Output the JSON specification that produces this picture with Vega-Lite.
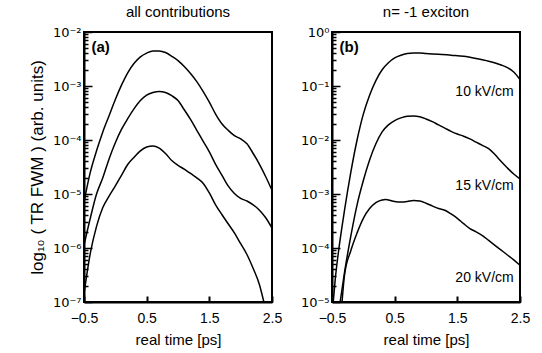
{
  "$schema": "https://vega.github.io/schema/vega-lite/v6.json",
  "background": "white",
  "padding": {"left": 27, "top": 4, "right": 5, "bottom": 5},
  "config": {
    "font": "Liberation Sans",
    "view": {"stroke": "black", "strokeWidth": 2},
    "axis": {"grid": false, "ticks": true, "domainColor": "black", "domainWidth": 2, "labelColor": "black", "titleColor": "black", "labelFontSize": 14, "titleFontSize": 16, "titleFontWeight": "normal", "labelOverlap": false, "labelFlush": false},
    "title": {"fontSize": 15, "fontWeight": "normal", "color": "black", "offset": 6}
  },
  "spacing": 16,
  "datasets": {
    "a": [
      {"s": "A", "t": -0.5, "v": 7.079e-6}, {"s": "A", "t": -0.4, "v": 2.512e-5}, {"s": "A", "t": -0.3, "v": 6.310e-5}, {"s": "A", "t": -0.2, "v": 1.413e-4}, {"s": "A", "t": -0.1, "v": 2.818e-4}, {"s": "A", "t": 0.0, "v": 5.623e-4}, {"s": "A", "t": 0.1, "v": 1.047e-3}, {"s": "A", "t": 0.2, "v": 1.778e-3}, {"s": "A", "t": 0.3, "v": 2.630e-3}, {"s": "A", "t": 0.4, "v": 3.467e-3}, {"s": "A", "t": 0.5, "v": 4.074e-3}, {"s": "A", "t": 0.6, "v": 4.467e-3}, {"s": "A", "t": 0.7, "v": 4.467e-3}, {"s": "A", "t": 0.8, "v": 4.169e-3}, {"s": "A", "t": 0.9, "v": 3.548e-3}, {"s": "A", "t": 1.0, "v": 2.951e-3}, {"s": "A", "t": 1.1, "v": 2.291e-3}, {"s": "A", "t": 1.2, "v": 1.698e-3}, {"s": "A", "t": 1.3, "v": 1.202e-3}, {"s": "A", "t": 1.4, "v": 7.943e-4}, {"s": "A", "t": 1.5, "v": 5.012e-4}, {"s": "A", "t": 1.6, "v": 3.020e-4}, {"s": "A", "t": 1.7, "v": 1.995e-4}, {"s": "A", "t": 1.8, "v": 1.514e-4}, {"s": "A", "t": 1.9, "v": 1.202e-4}, {"s": "A", "t": 2.0, "v": 1.047e-4}, {"s": "A", "t": 2.1, "v": 8.511e-5}, {"s": "A", "t": 2.2, "v": 5.623e-5}, {"s": "A", "t": 2.3, "v": 3.548e-5}, {"s": "A", "t": 2.4, "v": 2.089e-5}, {"s": "A", "t": 2.5, "v": 1.175e-5},
      {"s": "B", "t": -0.5, "v": 1.122e-6}, {"s": "B", "t": -0.4, "v": 3.548e-6}, {"s": "B", "t": -0.3, "v": 1.0e-5}, {"s": "B", "t": -0.2, "v": 1.995e-5}, {"s": "B", "t": -0.1, "v": 4.467e-5}, {"s": "B", "t": 0.0, "v": 8.913e-5}, {"s": "B", "t": 0.1, "v": 1.585e-4}, {"s": "B", "t": 0.2, "v": 2.512e-4}, {"s": "B", "t": 0.3, "v": 3.802e-4}, {"s": "B", "t": 0.4, "v": 5.370e-4}, {"s": "B", "t": 0.5, "v": 6.761e-4}, {"s": "B", "t": 0.6, "v": 7.586e-4}, {"s": "B", "t": 0.7, "v": 7.943e-4}, {"s": "B", "t": 0.8, "v": 7.586e-4}, {"s": "B", "t": 0.9, "v": 6.607e-4}, {"s": "B", "t": 1.0, "v": 5.370e-4}, {"s": "B", "t": 1.1, "v": 3.631e-4}, {"s": "B", "t": 1.2, "v": 2.399e-4}, {"s": "B", "t": 1.3, "v": 1.514e-4}, {"s": "B", "t": 1.4, "v": 9.550e-5}, {"s": "B", "t": 1.5, "v": 6.026e-5}, {"s": "B", "t": 1.6, "v": 3.548e-5}, {"s": "B", "t": 1.7, "v": 2.239e-5}, {"s": "B", "t": 1.8, "v": 1.413e-5}, {"s": "B", "t": 1.9, "v": 1.023e-5}, {"s": "B", "t": 2.0, "v": 8.318e-6}, {"s": "B", "t": 2.1, "v": 7.413e-6}, {"s": "B", "t": 2.2, "v": 6.310e-6}, {"s": "B", "t": 2.3, "v": 5.012e-6}, {"s": "B", "t": 2.4, "v": 3.631e-6}, {"s": "B", "t": 2.5, "v": 2.344e-6},
      {"s": "C", "t": -0.5, "v": 1.413e-7}, {"s": "C", "t": -0.4, "v": 7.943e-7}, {"s": "C", "t": -0.3, "v": 2.512e-6}, {"s": "C", "t": -0.2, "v": 5.623e-6}, {"s": "C", "t": -0.1, "v": 9.120e-6}, {"s": "C", "t": 0.0, "v": 1.413e-5}, {"s": "C", "t": 0.1, "v": 2.239e-5}, {"s": "C", "t": 0.2, "v": 3.548e-5}, {"s": "C", "t": 0.3, "v": 4.786e-5}, {"s": "C", "t": 0.4, "v": 6.310e-5}, {"s": "C", "t": 0.5, "v": 7.413e-5}, {"s": "C", "t": 0.6, "v": 7.762e-5}, {"s": "C", "t": 0.7, "v": 7.079e-5}, {"s": "C", "t": 0.8, "v": 5.623e-5}, {"s": "C", "t": 0.9, "v": 4.169e-5}, {"s": "C", "t": 1.0, "v": 3.388e-5}, {"s": "C", "t": 1.1, "v": 2.884e-5}, {"s": "C", "t": 1.2, "v": 2.399e-5}, {"s": "C", "t": 1.3, "v": 1.995e-5}, {"s": "C", "t": 1.4, "v": 1.585e-5}, {"s": "C", "t": 1.5, "v": 1.047e-5}, {"s": "C", "t": 1.6, "v": 6.310e-6}, {"s": "C", "t": 1.7, "v": 4.169e-6}, {"s": "C", "t": 1.8, "v": 2.818e-6}, {"s": "C", "t": 1.9, "v": 1.905e-6}, {"s": "C", "t": 2.0, "v": 1.202e-6}, {"s": "C", "t": 2.1, "v": 7.586e-7}, {"s": "C", "t": 2.2, "v": 4.169e-7}, {"s": "C", "t": 2.3, "v": 2.089e-7}, {"s": "C", "t": 2.37, "v": 1.0e-7}
    ],
    "b": [
      {"s": "10", "t": -0.48, "v": 1.0e-5}, {"s": "10", "t": -0.45, "v": 2.512e-5}, {"s": "10", "t": -0.4, "v": 7.943e-5}, {"s": "10", "t": -0.3, "v": 5.012e-4}, {"s": "10", "t": -0.2, "v": 2.512e-3}, {"s": "10", "t": -0.1, "v": 1.0e-2}, {"s": "10", "t": 0.0, "v": 3.020e-2}, {"s": "10", "t": 0.1, "v": 6.761e-2}, {"s": "10", "t": 0.2, "v": 0.1259}, {"s": "10", "t": 0.3, "v": 0.1995}, {"s": "10", "t": 0.4, "v": 0.2692}, {"s": "10", "t": 0.5, "v": 0.3311}, {"s": "10", "t": 0.6, "v": 0.3715}, {"s": "10", "t": 0.7, "v": 0.3981}, {"s": "10", "t": 0.8, "v": 0.4074}, {"s": "10", "t": 0.9, "v": 0.4074}, {"s": "10", "t": 1.0, "v": 0.3981}, {"s": "10", "t": 1.2, "v": 0.3890}, {"s": "10", "t": 1.4, "v": 0.3715}, {"s": "10", "t": 1.6, "v": 0.3548}, {"s": "10", "t": 1.8, "v": 0.3236}, {"s": "10", "t": 2.0, "v": 0.2884}, {"s": "10", "t": 2.2, "v": 0.2455}, {"s": "10", "t": 2.3, "v": 0.2188}, {"s": "10", "t": 2.4, "v": 0.1820}, {"s": "10", "t": 2.5, "v": 0.1318},
      {"s": "15", "t": -0.37, "v": 1.0e-5}, {"s": "15", "t": -0.3, "v": 3.548e-5}, {"s": "15", "t": -0.2, "v": 1.660e-4}, {"s": "15", "t": -0.1, "v": 6.310e-4}, {"s": "15", "t": 0.0, "v": 1.778e-3}, {"s": "15", "t": 0.1, "v": 4.266e-3}, {"s": "15", "t": 0.2, "v": 8.511e-3}, {"s": "15", "t": 0.3, "v": 1.413e-2}, {"s": "15", "t": 0.4, "v": 1.905e-2}, {"s": "15", "t": 0.5, "v": 2.291e-2}, {"s": "15", "t": 0.6, "v": 2.570e-2}, {"s": "15", "t": 0.7, "v": 2.754e-2}, {"s": "15", "t": 0.8, "v": 2.786e-2}, {"s": "15", "t": 0.9, "v": 2.692e-2}, {"s": "15", "t": 1.0, "v": 2.455e-2}, {"s": "15", "t": 1.1, "v": 2.188e-2}, {"s": "15", "t": 1.2, "v": 1.905e-2}, {"s": "15", "t": 1.3, "v": 1.660e-2}, {"s": "15", "t": 1.4, "v": 1.445e-2}, {"s": "15", "t": 1.5, "v": 1.288e-2}, {"s": "15", "t": 1.6, "v": 1.175e-2}, {"s": "15", "t": 1.7, "v": 1.047e-2}, {"s": "15", "t": 1.8, "v": 9.120e-3}, {"s": "15", "t": 1.9, "v": 7.943e-3}, {"s": "15", "t": 2.0, "v": 6.918e-3}, {"s": "15", "t": 2.1, "v": 5.370e-3}, {"s": "15", "t": 2.2, "v": 3.981e-3}, {"s": "15", "t": 2.3, "v": 3.020e-3}, {"s": "15", "t": 2.4, "v": 2.344e-3}, {"s": "15", "t": 2.5, "v": 1.905e-3},
      {"s": "20", "t": -0.34, "v": 1.0e-5}, {"s": "20", "t": -0.3, "v": 3.162e-5}, {"s": "20", "t": -0.2, "v": 8.913e-5}, {"s": "20", "t": -0.1, "v": 1.905e-4}, {"s": "20", "t": 0.0, "v": 3.548e-4}, {"s": "20", "t": 0.1, "v": 5.370e-4}, {"s": "20", "t": 0.2, "v": 6.918e-4}, {"s": "20", "t": 0.3, "v": 7.762e-4}, {"s": "20", "t": 0.35, "v": 7.943e-4}, {"s": "20", "t": 0.4, "v": 7.762e-4}, {"s": "20", "t": 0.5, "v": 7.244e-4}, {"s": "20", "t": 0.6, "v": 7.079e-4}, {"s": "20", "t": 0.7, "v": 7.244e-4}, {"s": "20", "t": 0.8, "v": 7.586e-4}, {"s": "20", "t": 0.9, "v": 7.413e-4}, {"s": "20", "t": 1.0, "v": 6.761e-4}, {"s": "20", "t": 1.1, "v": 6.026e-4}, {"s": "20", "t": 1.2, "v": 5.370e-4}, {"s": "20", "t": 1.3, "v": 5.012e-4}, {"s": "20", "t": 1.4, "v": 4.266e-4}, {"s": "20", "t": 1.5, "v": 3.548e-4}, {"s": "20", "t": 1.6, "v": 2.818e-4}, {"s": "20", "t": 1.7, "v": 2.291e-4}, {"s": "20", "t": 1.8, "v": 1.995e-4}, {"s": "20", "t": 1.9, "v": 1.698e-4}, {"s": "20", "t": 2.0, "v": 1.380e-4}, {"s": "20", "t": 2.1, "v": 1.122e-4}, {"s": "20", "t": 2.2, "v": 9.120e-5}, {"s": "20", "t": 2.3, "v": 7.413e-5}, {"s": "20", "t": 2.4, "v": 6.026e-5}, {"s": "20", "t": 2.5, "v": 4.786e-5}
    ],
    "tagA": [{"t": -0.38, "v": 5.2e-3, "label": "(a)"}],
    "tagB": [{"t": -0.38, "v": 0.52, "label": "(b)"}],
    "fields": [
      {"t": 2.4, "v": 0.078, "label": "10 kV/cm"},
      {"t": 2.4, "v": 1.4e-3, "label": "15 kV/cm"},
      {"t": 2.4, "v": 2.8e-5, "label": "20 kV/cm"}
    ]
  },
  "hconcat": [
    {
      "width": 188,
      "height": 270,
      "title": {"text": "all contributions"},
      "layer": [
        {
          "data": {"name": "a"},
          "mark": {"type": "line", "color": "black", "strokeWidth": 1.5, "interpolate": "monotone"},
          "encoding": {
            "x": {"field": "t", "type": "quantitative", "scale": {"domain": [-0.5, 2.5], "nice": false, "zero": false},
              "axis": {"title": "real time  [ps]", "titleFontSize": 15, "titlePadding": 7, "ticks": true, "zindex": 1, "values": [-0.5, -0.25, 0, 0.25, 0.5, 0.75, 1, 1.25, 1.5, 1.75, 2, 2.25, 2.5], "tickSize": -6, "tickColor": "black", "tickWidth": 2, "labelPadding": 15, "format": ".1~f",
                "labelColor": {"condition": {"test": "datum.value == 1 || datum.value == 2 || abs(datum.value * 2 - round(datum.value * 2)) > 1e-9", "value": "transparent"}, "value": "black"}}},
            "y": {"field": "v", "type": "quantitative", "scale": {"type": "log", "domain": [1e-7, 1e-2], "nice": false},
              "axis": {"title": "log₁₀ ( TR FWM ) (arb. units)", "titleFontSize": 17, "titlePadding": 6, "ticks": true, "zindex": 1, "labelFont": "DejaVu Sans", "labelFontSize": 13, "tickColor": "black", "tickWidth": 1.5, "values": [1e-7, 2e-7, 3e-7, 4e-7, 5e-7, 6e-7, 7e-7, 8e-7, 9e-7, 1e-6, 2e-6, 3e-6, 4e-6, 5e-6, 6e-6, 7e-6, 8e-6, 9e-6, 1e-5, 2e-5, 3e-5, 4e-5, 5e-5, 6e-5, 7e-5, 8e-5, 9e-5, 1e-4, 2e-4, 3e-4, 4e-4, 5e-4, 6e-4, 7e-4, 8e-4, 9e-4, 1e-3, 2e-3, 3e-3, 4e-3, 5e-3, 6e-3, 7e-3, 8e-3, 9e-3, 1e-2],
                "tickSize": {"condition": {"test": "abs(log(datum.value)/LN10 - round(log(datum.value)/LN10)) < 1e-6", "value": -8}, "value": -4},
                "labelPadding": 11,
                "labelExpr": "abs(log(datum.value)/LN10 - round(log(datum.value)/LN10)) < 1e-6 ? (round(log(datum.value)/LN10) == 0 ? '10⁰' : '10⁻' + ['', '¹', '²', '³', '⁴', '⁵', '⁶', '⁷'][-round(log(datum.value)/LN10)]) : ''"}},
            "detail": {"field": "s"}
          }
        },
        {
          "data": {"name": "tagA"},
          "mark": {"type": "text", "align": "left", "fontSize": 15, "fontWeight": "bold", "color": "black"},
          "encoding": {"x": {"field": "t", "type": "quantitative"}, "y": {"field": "v", "type": "quantitative"}, "text": {"field": "label"}}
        }
      ]
    },
    {
      "width": 188,
      "height": 270,
      "title": {"text": "n= -1 exciton"},
      "layer": [
        {
          "data": {"name": "b"},
          "mark": {"type": "line", "color": "black", "strokeWidth": 1.5, "interpolate": "monotone"},
          "encoding": {
            "x": {"field": "t", "type": "quantitative", "scale": {"domain": [-0.5, 2.5], "nice": false, "zero": false},
              "axis": {"title": "real time  [ps]", "titleFontSize": 15, "titlePadding": 7, "ticks": true, "zindex": 1, "values": [-0.5, -0.25, 0, 0.25, 0.5, 0.75, 1, 1.25, 1.5, 1.75, 2, 2.25, 2.5], "tickSize": -6, "tickColor": "black", "tickWidth": 2, "labelPadding": 15, "format": ".1~f",
                "labelColor": {"condition": {"test": "datum.value == 1 || datum.value == 2 || abs(datum.value * 2 - round(datum.value * 2)) > 1e-9", "value": "transparent"}, "value": "black"}}},
            "y": {"field": "v", "type": "quantitative", "scale": {"type": "log", "domain": [1e-5, 1], "nice": false},
              "axis": {"title": null, "ticks": true, "zindex": 1, "labelFont": "DejaVu Sans", "labelFontSize": 13, "tickColor": "black", "tickWidth": 1.5, "values": [1e-5, 2e-5, 3e-5, 4e-5, 5e-5, 6e-5, 7e-5, 8e-5, 9e-5, 1e-4, 2e-4, 3e-4, 4e-4, 5e-4, 6e-4, 7e-4, 8e-4, 9e-4, 1e-3, 2e-3, 3e-3, 4e-3, 5e-3, 6e-3, 7e-3, 8e-3, 9e-3, 1e-2, 2e-2, 3e-2, 4e-2, 5e-2, 6e-2, 7e-2, 8e-2, 9e-2, 0.1, 0.2, 0.3, 0.4, 0.5, 0.6, 0.7, 0.8, 0.9, 1],
                "tickSize": {"condition": {"test": "abs(log(datum.value)/LN10 - round(log(datum.value)/LN10)) < 1e-6", "value": -8}, "value": -4},
                "labelPadding": 11,
                "labelExpr": "abs(log(datum.value)/LN10 - round(log(datum.value)/LN10)) < 1e-6 ? (round(log(datum.value)/LN10) == 0 ? '10⁰' : '10⁻' + ['', '¹', '²', '³', '⁴', '⁵', '⁶', '⁷'][-round(log(datum.value)/LN10)]) : ''"}},
            "detail": {"field": "s"}
          }
        },
        {
          "data": {"name": "tagB"},
          "mark": {"type": "text", "align": "left", "fontSize": 15, "fontWeight": "bold", "color": "black"},
          "encoding": {"x": {"field": "t", "type": "quantitative"}, "y": {"field": "v", "type": "quantitative"}, "text": {"field": "label"}}
        },
        {
          "data": {"name": "fields"},
          "mark": {"type": "text", "align": "right", "fontSize": 14, "color": "black"},
          "encoding": {"x": {"field": "t", "type": "quantitative"}, "y": {"field": "v", "type": "quantitative"}, "text": {"field": "label"}}
        }
      ]
    }
  ]
}
